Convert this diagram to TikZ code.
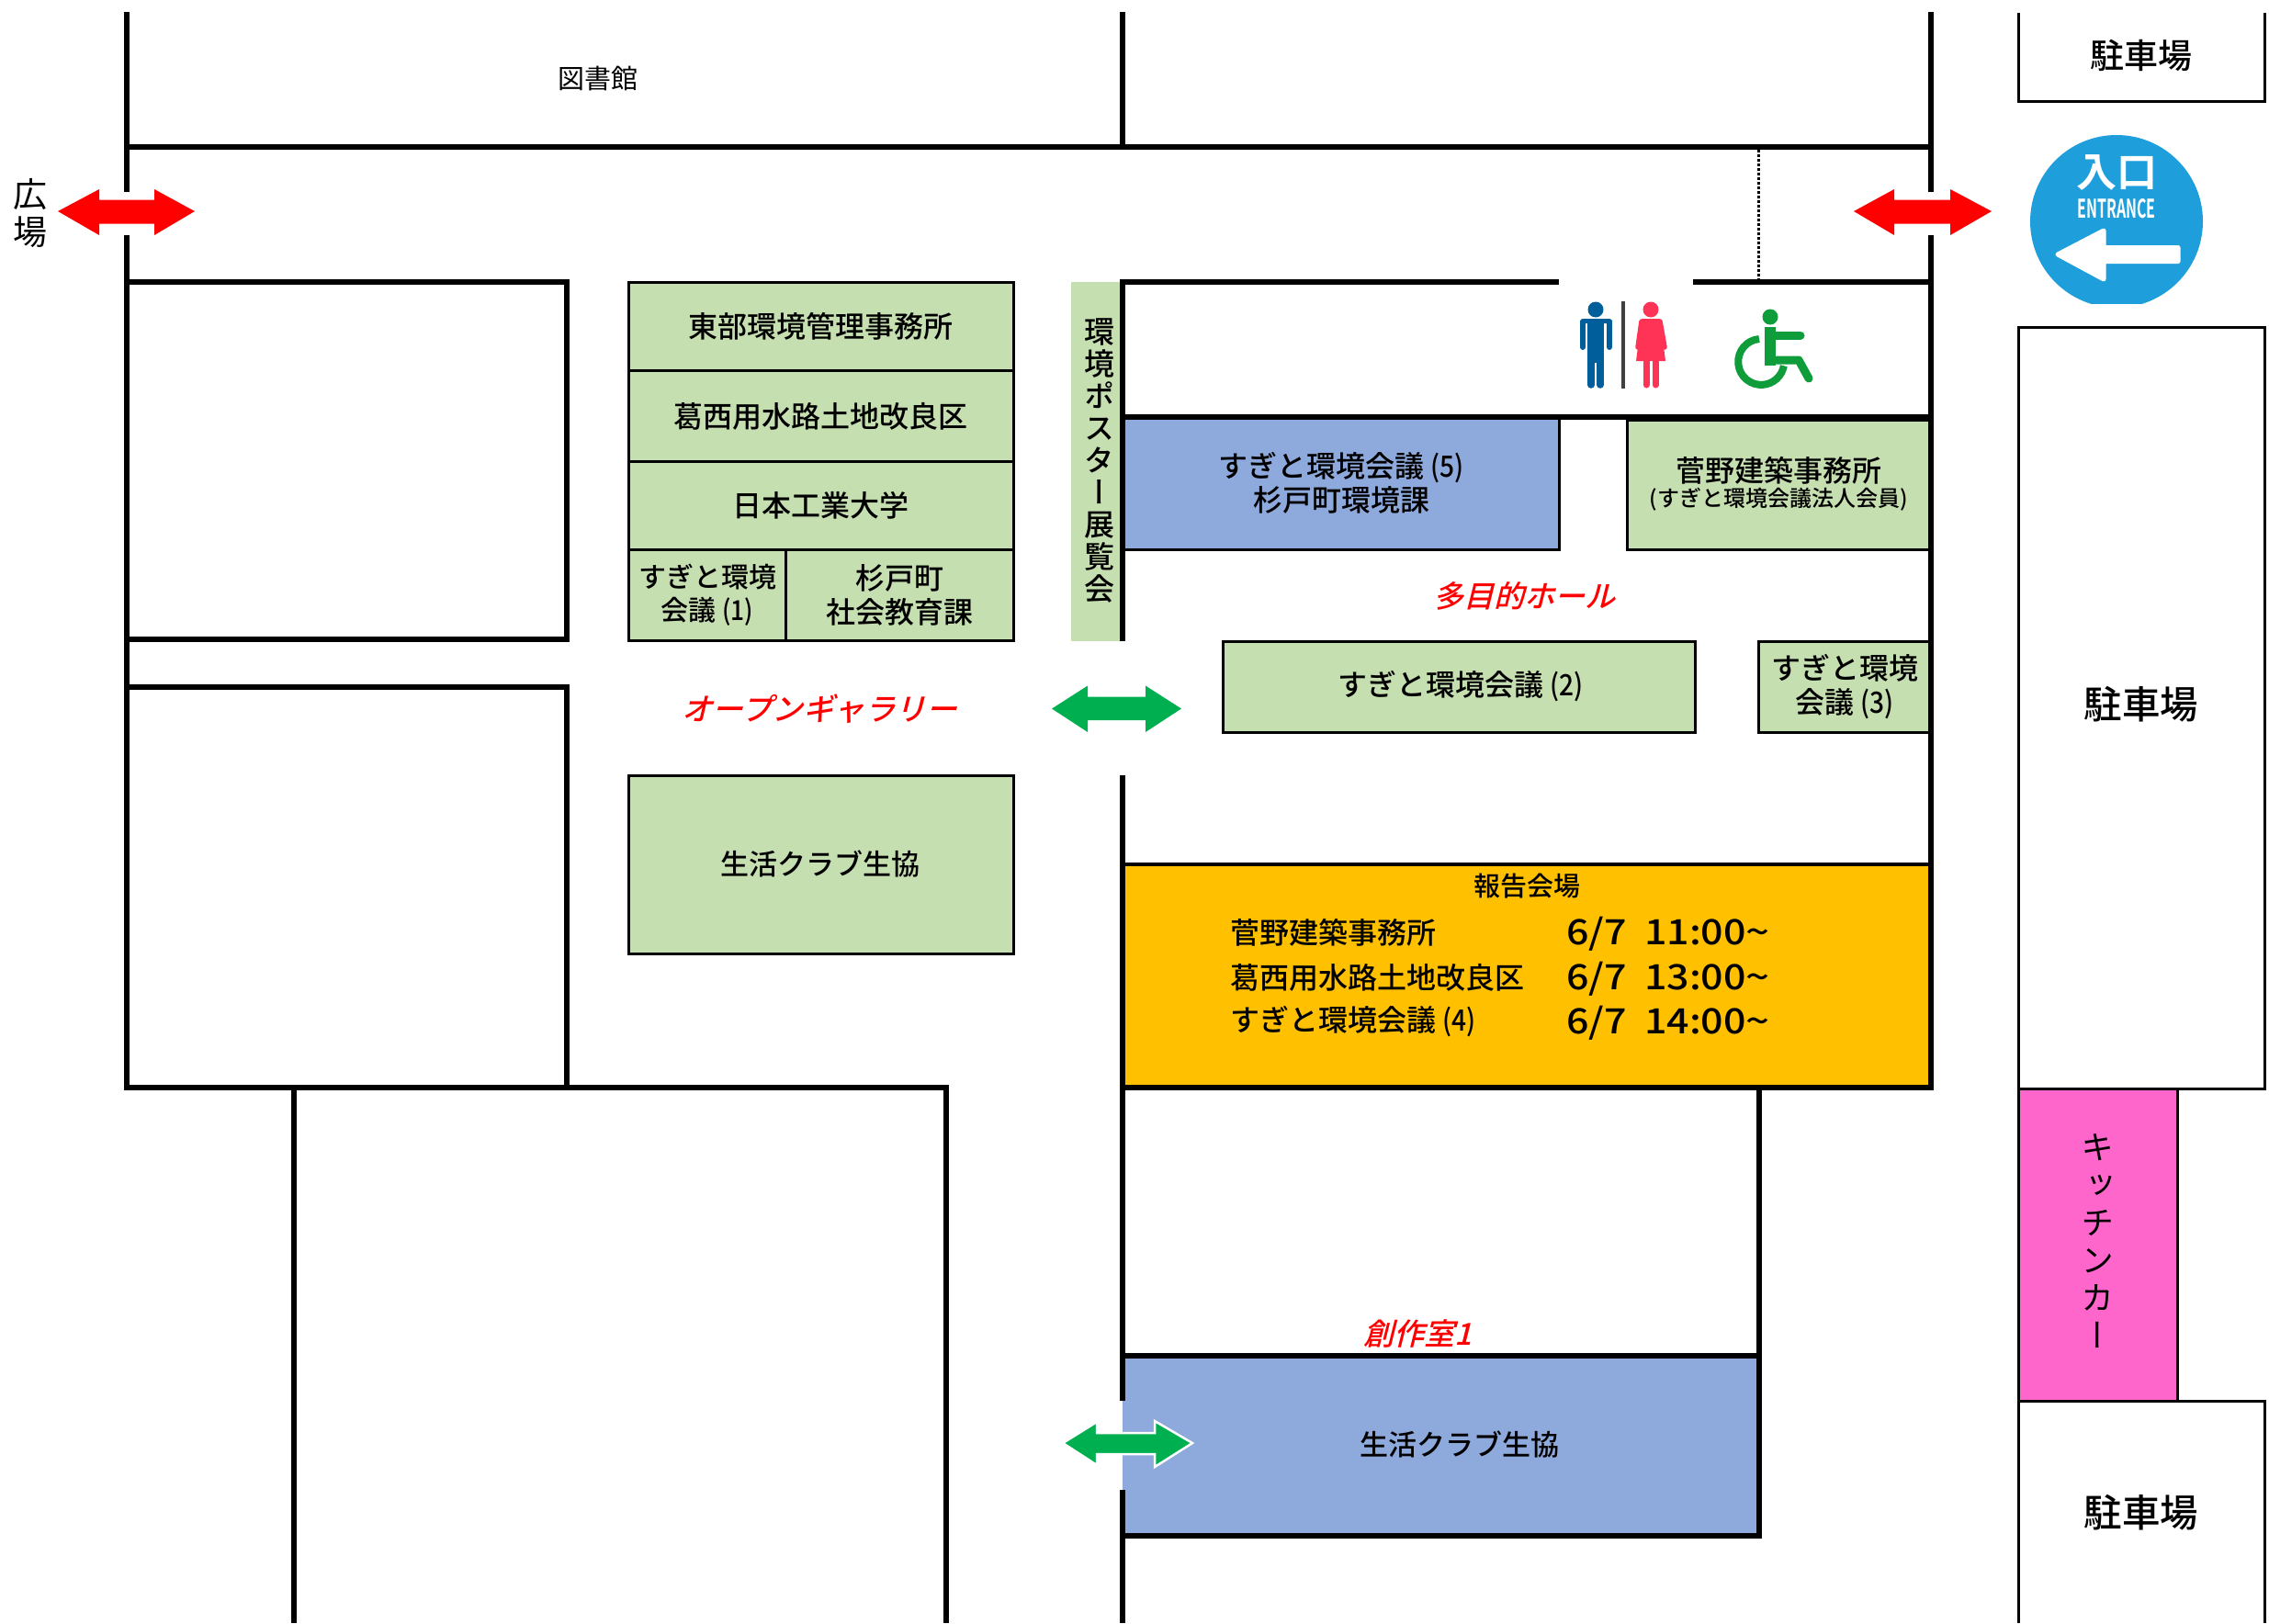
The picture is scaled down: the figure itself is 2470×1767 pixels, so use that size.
\documentclass[tikz,border=0pt]{standalone}
\usepackage{fontspec}
\setmainfont{Noto Sans CJK JP}
\newfontfamily\jpb{Noto Sans CJK JP Medium}
\newfontfamily\jpi[FakeSlant=0.25]{Noto Sans CJK JP Medium}
\newfontfamily\jpw{Noto Sans CJK JP Bold}
\newfontfamily\jpv[RawFeature=+vert]{Noto Sans CJK JP}
\newfontfamily\jpvb[RawFeature=+vert]{Noto Sans CJK JP Medium}
\newcommand{\pn}[1]{\scalebox{0.88}[1]{(#1)}}
\newcommand{\wavy}{\scalebox{1.2}[1]{\textasciitilde}}
\newcommand{\when}[1]{\scalebox{1.13}[1]{6/7\ \ #1}\wavy}
\definecolor{lgreen}{HTML}{C6DFB1}
\definecolor{lblue}{HTML}{8EA9DB}
\definecolor{orangeb}{HTML}{FFC000}
\definecolor{pinkb}{HTML}{FF66CC}
\definecolor{greenarrow}{HTML}{00B050}
\definecolor{signblue}{HTML}{1E9FDC}
\definecolor{manblue}{HTML}{005F9A}
\definecolor{womanred}{HTML}{FF3355}
\definecolor{wheelgreen}{HTML}{0F9D3B}
\tikzset{
  wall/.style={line width=6pt,line cap=butt},
  thinb/.style={line width=3pt,draw=black},
  parkb/.style={line width=3pt,draw=black},
  lab/.style={font=\jpb\fontsize{32}{37}\selectfont,align=center,inner sep=0pt,text=black},
  plain/.style={font=\fontsize{29}{37}\selectfont,align=center,inner sep=0pt,text=black},
  redlab/.style={font=\jpi\fontsize{33}{37}\selectfont,align=center,inner sep=0pt,text=red},
  redarrow/.style={fill=red,draw=none},
  grnarrow/.style={fill=greenarrow,draw=none}
}
\begin{document}
\begin{tikzpicture}[x=1pt,y=-1pt]
\useasboundingbox (0,0) rectangle (2470,1767);
% fills
\fill[lblue] (1222,1476) rectangle (1915,1672);
\fill[orangeb] (1222,940) rectangle (2102,1184);
\fill[lblue] (1222,454) rectangle (1697,598);
\fill[lgreen] (1166,307) rectangle (1222,698);
% green blocks
\draw[thinb,fill=lgreen] (684,307) rectangle (1103,403.5);
\draw[thinb,fill=lgreen] (684,403.5) rectangle (1103,502.5);
\draw[thinb,fill=lgreen] (684,502.5) rectangle (1103,598);
\draw[thinb,fill=lgreen] (684,598) rectangle (855,697);
\draw[thinb,fill=lgreen] (855,598) rectangle (1103,697);
\draw[thinb,fill=lgreen] (684,844) rectangle (1103,1038);
\draw[thinb,fill=lgreen] (1771,457) rectangle (2102,598);
\draw[thinb,fill=lgreen] (1331,698) rectangle (1845,797);
\fill[lgreen] (1914,698) rectangle (2102,797);
\draw[thinb] (2102,698) -- (1914,698) -- (1914,797) -- (2102,797);
\draw[thinb] (1222,598) -- (1697,598) -- (1697,454);
% walls
\draw[wall] (138,13) -- (138,209);
\draw[wall] (138,256) -- (138,1184);
\draw[wall] (135,160) -- (2105,160);
\draw[wall] (135,307) -- (620,307);
\draw[wall] (617,307) -- (617,698);
\draw[wall] (135,696) -- (620,696);
\draw[wall] (135,748) -- (620,748);
\draw[wall] (617,748) -- (617,1184);
\draw[wall] (135,1184) -- (1033,1184);
\draw[wall] (320,1184) -- (320,1767);
\draw[wall] (1030,1184) -- (1030,1767);
\draw[wall] (1222,13) -- (1222,160);
\draw[wall] (1222,304) -- (1222,698);
\draw[wall] (1222,844) -- (1222,1525);
\draw[wall] (1222,1622) -- (1222,1767);
\draw[wall] (1219,307) -- (1697,307);
\draw[wall] (1843,307) -- (2105,307);
\draw[wall] (1219,454) -- (2105,454);
\draw[wall] (2102,13) -- (2102,209);
\draw[wall] (2102,256) -- (2102,1187);
\draw[line width=4pt] (1222,941) -- (2102,941);
\draw[wall] (1219,1184) -- (2105,1184);
\draw[wall] (1915,1184) -- (1915,1675);
\draw[wall] (1219,1476) -- (1918,1476);
\draw[wall] (1219,1672) -- (1918,1672);
\draw[line width=3pt,dotted] (1914,163) -- (1914,304);
% right-hand column
\draw[parkb] (2197,14) -- (2197,110) -- (2465,110) -- (2465,14);
\draw[parkb] (2197,1185) -- (2197,356) -- (2465,356) -- (2465,1185) -- cycle;
\draw[parkb,fill=pinkb] (2197,1185) rectangle (2370,1525);
\draw[parkb] (2197,1767) -- (2197,1525) -- (2465,1525) -- (2465,1767);
% red arrows
\fill[redarrow] (63,230) -- (108,206) -- (108,217.5) -- (168,217.5) -- (168,206) -- (212,230) -- (168,256) -- (168,243.5) -- (108,243.5) -- (108,256) -- cycle;
\fill[redarrow] (2018,230) -- (2062,206) -- (2062,217.5) -- (2123,217.5) -- (2123,206) -- (2168,230) -- (2123,256) -- (2123,243.5) -- (2062,243.5) -- (2062,256) -- cycle;
% green arrows
\fill[grnarrow] (1145,771.5) -- (1184,746.5) -- (1184,758.5) -- (1247,758.5) -- (1247,746.5) -- (1286,771.5) -- (1247,797) -- (1247,784) -- (1184,784) -- (1184,797) -- cycle;
\draw[grnarrow,draw=white,line width=2.5pt,line join=miter] (1157,1571) -- (1194,1548) -- (1194,1560) -- (1257,1560) -- (1257,1547) -- (1298,1571) -- (1257,1597) -- (1257,1583) -- (1194,1583) -- (1194,1595) -- cycle;
% entrance sign
\begin{scope}
\clip (2200,140) rectangle (2410,330);
\fill[signblue] (2304,241) circle (94);
\end{scope}
\filldraw[white,line width=5pt,line join=round] (2240,277) -- (2290,251) -- (2290,269.5) -- (2371,269.5) -- (2371,284.5) -- (2290,284.5) -- (2290,304) -- cycle;
\node[font=\jpw\fontsize{44}{44}\selectfont,text=white,inner sep=0pt] (signj) at (2304,188) {入口};
\node[font=\jpw\fontsize{28}{28}\selectfont,text=white,inner sep=0pt] (signe) at (2304,227) {\scalebox{0.57}[1]{ENTRANCE}};
% toilet
\fill[manblue] (1737,337) circle (8.5);
\fill[manblue,rounded corners=3pt] (1720,347) rectangle (1755,352);
\draw[manblue,line width=6pt,line cap=round] (1723,351) -- (1723,378);
\draw[manblue,line width=6pt,line cap=round] (1752,351) -- (1752,378);
\fill[manblue] (1728,347) rectangle (1746,395);
\draw[manblue,line width=7.5pt,line cap=round] (1732,392) -- (1732,419);
\draw[manblue,line width=7.5pt,line cap=round] (1742,392) -- (1742,419);
\draw[black!75,line width=3.5pt] (1767,328) -- (1767,423);
\fill[womanred] (1797,337) circle (8.5);
\fill[womanred] (1787,347) -- (1807,347) -- (1813,393) -- (1781,393) -- cycle;
\draw[womanred,line width=5.5pt,line cap=round] (1787,350) -- (1783,378);
\draw[womanred,line width=5.5pt,line cap=round] (1807,350) -- (1812,378);
\draw[womanred,line width=7pt,line cap=round] (1792,392) -- (1792,419);
\draw[womanred,line width=7pt,line cap=round] (1802,392) -- (1802,419);
% wheelchair
\fill[wheelgreen] (1927,345) circle (8.5);
\draw[wheelgreen,line width=12pt,line cap=butt] (1927,356) -- (1927,398);
\draw[wheelgreen,line width=9pt,line cap=round,line join=round] (1927,392) -- (1958,392) -- (1969,412);
\draw[wheelgreen,line width=9pt,line cap=round] (1927,365) -- (1960,365);
\draw[wheelgreen,line width=8pt,line cap=butt] (1915,369) arc[start angle=-95,end angle=-350,radius=25];
% labels
\node[plain] (lib) at (651,85) {図書館};
\node[plain,font=\fontsize{37}{41}\selectfont] (plaza) at (33,232) {広\\場};
\node[lab,font=\jpb\fontsize{37}{37}\selectfont] (park1) at (2331,60) {駐車場};
\node[lab,font=\jpb\fontsize{41.5}{41.5}\selectfont] (park2) at (2331,767) {駐車場};
\node[lab,font=\jpb\fontsize{41.5}{41.5}\selectfont] (park3) at (2331,1647) {駐車場};
\node[plain,font=\jpv\fontsize{36}{41}\selectfont] (kitchen) at (2283,1351) {キ\\ッ\\チ\\ン\\カ\\ー};
\node[plain,font=\jpvb\fontsize{33}{35}\selectfont] (poster) at (1197,502) {環\\境\\ポ\\ス\\タ\\ー\\展\\覧\\会};
\node[lab] (a1) at (893,355) {東部環境管理事務所};
\node[lab] (a2) at (893,453) {葛西用水路土地改良区};
\node[lab] (a3) at (893,550) {日本工業大学};
\node[lab,font=\jpb\fontsize{30}{36}\selectfont] (a4) at (770,648) {すぎと環境\\会議 \pn{1}};
\node[lab] (a5) at (979,648) {杉戸町\\社会教育課};
\node[redlab,font=\jpi\fontsize{33.5}{37}\selectfont] (gallery) at (892,771.5) {オープンギャラリー};
\node[lab,font=\jpb\fontsize{31}{37}\selectfont] (coop1) at (893,940) {生活クラブ生協};
\node[lab] (b1) at (1460,526) {すぎと環境会議 \pn{5}\\杉戸町環境課};
\node[lab] (b2) at (1936,512) {菅野建築事務所};
\node[lab,font=\jpb\fontsize{24}{28}\selectfont] (b3) at (1936,544) {(すぎと環境会議法人会員)};
\node[redlab] (hall) at (1659,649) {多目的ホール};
\node[lab] (c1) at (1590,747) {すぎと環境会議 \pn{2}};
\node[lab] (c2) at (2008,748) {すぎと環境\\会議 \pn{3}};
\node[lab,font=\jpb\fontsize{29}{33}\selectfont] (rep) at (1662,965) {報告会場};
\node[lab,anchor=west] (r1) at (1339,1015) {菅野建築事務所};
\node[lab,anchor=west] (r2) at (1339,1064) {葛西用水路土地改良区};
\node[lab,anchor=west] (r3) at (1339,1112) {すぎと環境会議 \pn{4}};
\node[lab,anchor=west,font=\jpb\fontsize{38}{38}\selectfont] (d1) at (1705,1017) {\when{11:00}};
\node[lab,anchor=west,font=\jpb\fontsize{38}{38}\selectfont] (d2) at (1705,1066) {\when{13:00}};
\node[lab,anchor=west,font=\jpb\fontsize{38}{38}\selectfont] (d3) at (1705,1114) {\when{14:00}};
\node[redlab] (room) at (1543,1452) {創作室1};
\node[lab,font=\jpb\fontsize{31}{37}\selectfont] (coop2) at (1589,1572) {生活クラブ生協};
\end{tikzpicture}
\end{document}
